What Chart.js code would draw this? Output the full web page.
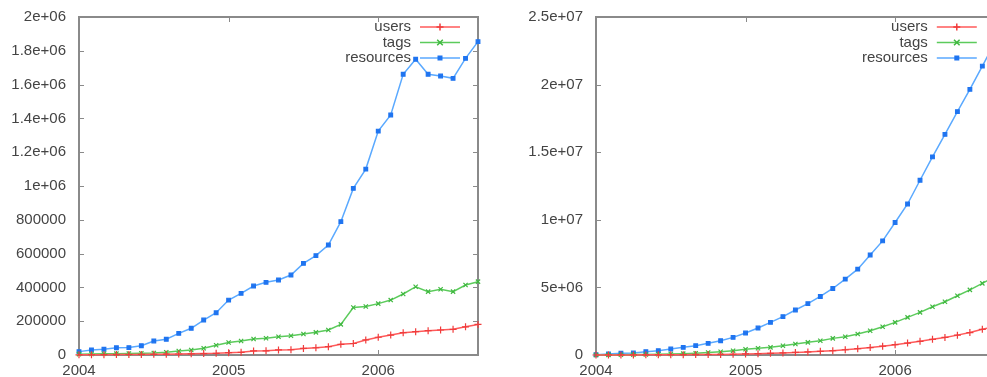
<!DOCTYPE html>
<html>
<head>
<meta charset="utf-8">
<script src="https://cdn.jsdelivr.net/npm/chart.js@4/dist/chart.umd.min.js"></script>
<style>
  html, body { margin: 0; padding: 0; overflow: hidden; background: #fff; width: 987px; height: 377px; }
  #monthly { position: absolute; left: 0; top: 0; }
  #total { position: absolute; left: 500px; top: 0; }
</style>
</head>
<body>
<canvas id="monthly" width="490" height="377"></canvas>
<canvas id="total" width="500" height="377"></canvas>
<script>
const months = [
  "2004-01", "2004-02", "2004-03", "2004-04", "2004-05", "2004-06",
  "2004-07", "2004-08", "2004-09", "2004-10", "2004-11", "2004-12",
  "2005-01", "2005-02", "2005-03", "2005-04", "2005-05", "2005-06",
  "2005-07", "2005-08", "2005-09", "2005-10", "2005-11", "2005-12",
  "2006-01", "2006-02", "2006-03", "2006-04", "2006-05", "2006-06",
  "2006-07", "2006-08", "2006-09",
];
const yearLabels = ["2004", "2005", "2006"];

// left plot: per month
const usersMonthly = [
  1000, 1500, 2000, 2500, 3000, 3500, 4000, 5000, 6000, 7000, 8500, 10000,
  14000, 16000, 24000, 25000, 30000, 31000, 39000, 43000, 49000, 63000, 68000, 89000,
  105000, 118000, 132000, 138000, 144000, 148000, 152000, 167000, 181000,
];
const tagsMonthly = [
  5000, 6000, 7000, 8000, 9000, 10000, 12000, 16000, 24000, 30000, 40000, 58000,
  74000, 83000, 95000, 99000, 108000, 114000, 124000, 134000, 148000, 181000, 281000, 287000,
  304000, 325000, 361000, 404000, 375000, 389000, 375000, 414000, 434000,
];
const resourcesMonthly = [
  20000, 30000, 34000, 43000, 44000, 55000, 83000, 93000, 128000, 158000, 207000, 250000,
  325000, 365000, 408000, 430000, 444000, 473000, 542000, 588000, 651000, 789000, 986000, 1100000,
  1325000, 1420000, 1661000, 1750000, 1661000, 1651000, 1637000, 1755000, 1854000,
];

// right plot: running totals
const usersTotal = [
  1000, 2500, 4500, 7000, 10000, 13500, 17500, 22500, 28500, 35500, 44000, 54000,
  80000, 100000, 125000, 150000, 190000, 230000, 270000, 320000, 390000, 470000, 550000, 650000,
  760000, 880000, 1010000, 1160000, 1300000, 1470000, 1660000, 1900000, 2100000,
];
const tagsTotal = [
  5000, 12000, 20000, 30000, 42000, 56000, 75000, 100000, 135000, 180000, 240000, 320000,
  420000, 495000, 566000, 689000, 812000, 936000, 1058000, 1230000, 1355000, 1550000, 1797000, 2093000,
  2413000, 2785000, 3150000, 3570000, 3940000, 4380000, 4820000, 5300000, 5800000,
];
const resourcesTotal = [
  20000, 74000, 125000, 148000, 246000, 320000, 443000, 566000, 689000, 862000, 1058000, 1305000,
  1625000, 1994000, 2413000, 2840000, 3330000, 3800000, 4330000, 4920000, 5610000, 6350000, 7400000, 8440000,
  9800000, 11170000, 12925000, 14650000, 16320000, 18000000, 19650000, 21370000, 23100000,
];

const monthlyTickLabels = ["0", "200000", "400000", "600000", "800000", "1e+06",
  "1.2e+06", "1.4e+06", "1.6e+06", "1.8e+06", "2e+06"];
const totalTickLabels = ["0", "5e+06", "1e+07", "1.5e+07", "2e+07", "2.5e+07"];

const FONT = { family: "'Liberation Sans', Arial, sans-serif", size: 15 };
const TEXT = "#444";
const FRAME = "#8a8a8a";

function drawMarker(ctx, style, x, y) {
  ctx.beginPath();
  if (style === "cross") {
    ctx.moveTo(x - 3.5, y); ctx.lineTo(x + 3.5, y);
    ctx.moveTo(x, y - 3.5); ctx.lineTo(x, y + 3.5);
    ctx.stroke();
  } else if (style === "crossRot") {
    ctx.moveTo(x - 2.8, y - 2.8); ctx.lineTo(x + 2.8, y + 2.8);
    ctx.moveTo(x - 2.8, y + 2.8); ctx.lineTo(x + 2.8, y - 2.8);
    ctx.stroke();
  } else {
    ctx.fillRect(x - 2.5, y - 2.5, 5, 5);
  }
}

const framePlugin = {
  id: "gnuplotFrame",
  beforeDatasetsDraw(chart) {
    const { ctx, chartArea: a, scales } = chart;
    ctx.save();
    ctx.strokeStyle = FRAME;
    ctx.lineWidth = 2;
    ctx.strokeRect(a.left, a.top, a.right - a.left, a.bottom - a.top);
    ctx.lineWidth = 1;
    ctx.beginPath();
    scales.y.ticks.forEach((t) => {
      const y = Math.round(scales.y.getPixelForValue(t.value)) + 0.5;
      ctx.moveTo(a.left, y); ctx.lineTo(a.left + 5, y);
      ctx.moveTo(a.right, y); ctx.lineTo(a.right - 5, y);
    });
    months.forEach((m, i) => {
      if (!m.endsWith("-01")) return;
      const x = Math.round(scales.x.getPixelForValue(i)) + 0.5;
      ctx.moveTo(x, a.bottom); ctx.lineTo(x, a.bottom - 5);
      ctx.moveTo(x, a.top); ctx.lineTo(x, a.top + 5);
    });
    ctx.stroke();
    ctx.restore();
  },
};

const keyPlugin = {
  id: "gnuplotKey",
  afterDraw(chart) {
    const { ctx, chartArea: a } = chart;
    ctx.save();
    ctx.font = FONT.size + "px " + FONT.family;
    ctx.textAlign = "right";
    ctx.textBaseline = "middle";
    chart.data.datasets.forEach((ds, i) => {
      const y = a.top + 10 + i * 15.5;
      ctx.fillStyle = TEXT;
      ctx.fillText(ds.label, a.right - 67, y);
      ctx.strokeStyle = ds.borderColor;
      ctx.lineWidth = 1.5;
      ctx.beginPath();
      ctx.moveTo(a.right - 58, y); ctx.lineTo(a.right - 18, y);
      ctx.stroke();
      ctx.strokeStyle = ds.pointBorderColor;
      ctx.fillStyle = ds.pointBackgroundColor;
      drawMarker(ctx, ds.pointStyle, a.right - 38, y);
    });
    ctx.restore();
  },
};

function series(label, data, color, markColor, pointStyle, radius) {
  return {
    label,
    data,
    borderColor: color,
    borderWidth: 1.5,
    pointStyle,
    pointRadius: radius,
    pointBorderWidth: 1.2,
    pointBorderColor: markColor,
    pointBackgroundColor: markColor,
    tension: 0,
    clip: false,
  };
}

function buildConfig(users, tags, resources, yMax, yStep, yLabels, yWidth, padRight) {
  return {
    type: "line",
    data: {
      labels: months,
      datasets: [
        series("users", users, "#ff5a5a", "#f03c3c", "cross", 3.5),
        series("tags", tags, "#5ccb5c", "#3fb83f", "crossRot", 3),
        series("resources", resources, "#5aa9ff", "#1f74f0", "rect", 2.6),
      ],
    },
    options: {
      responsive: false,
      animation: false,
      layout: { padding: { top: 17, right: padRight, left: 0, bottom: 0 } },
      plugins: { legend: { display: false }, tooltip: { enabled: false } },
      scales: {
        x: {
          type: "category",
          offset: false,
          grid: { display: false, drawTicks: false },
          border: { display: false },
          ticks: {
            autoSkip: false,
            maxRotation: 0,
            padding: 7,
            color: TEXT,
            font: FONT,
            callback: (v, i) => (months[i].endsWith("-01") ? yearLabels[Math.floor(i / 12)] : ""),
          },
          afterFit: (s) => { s.height = 22; s.paddingLeft = 0; s.paddingRight = 0; },
        },
        y: {
          min: 0,
          max: yMax,
          grid: { display: false, drawTicks: false },
          border: { display: false },
          ticks: {
            stepSize: yStep,
            padding: 13,
            color: TEXT,
            font: FONT,
            callback: (v) => yLabels[Math.round(v / yStep)],
          },
          afterFit: (s) => { s.width = yWidth; s.paddingTop = 0; s.paddingBottom = 0; },
        },
      },
    },
    plugins: [framePlugin, keyPlugin],
  };
}

new Chart(document.getElementById("monthly"),
  buildConfig(usersMonthly, tagsMonthly, resourcesMonthly, 2000000, 200000, monthlyTickLabels, 79, 12));
new Chart(document.getElementById("total"),
  buildConfig(usersTotal, tagsTotal, resourcesTotal, 25000000, 5000000, totalTickLabels, 96, 5));
</script>
</body>
</html>
